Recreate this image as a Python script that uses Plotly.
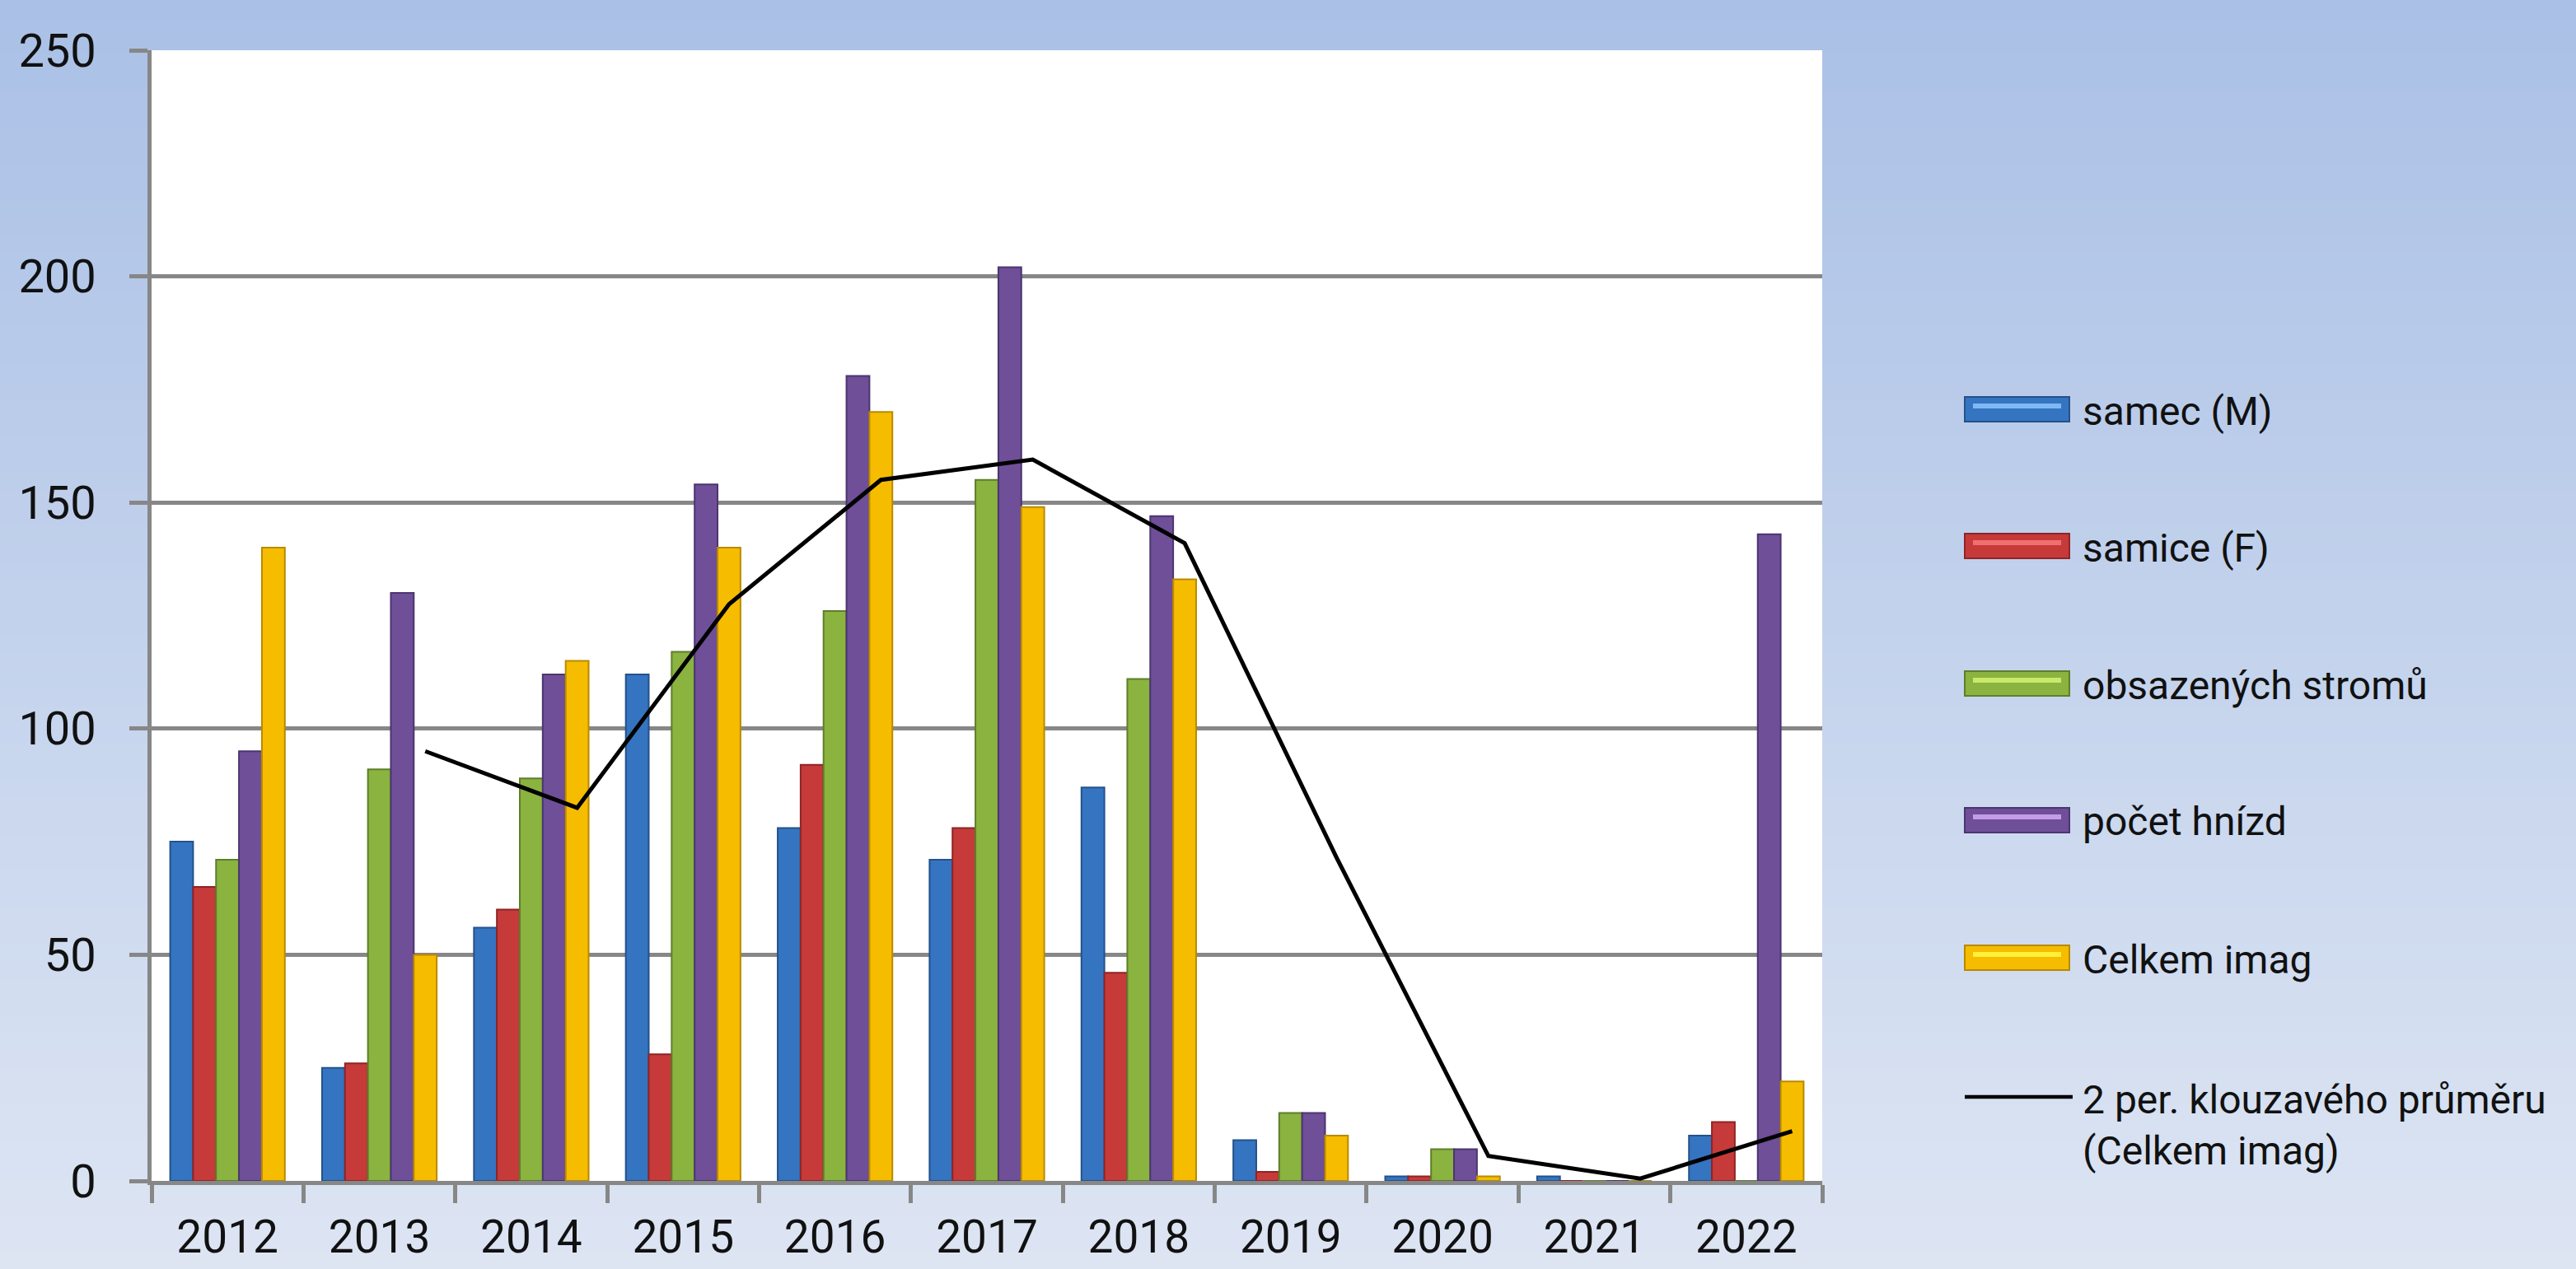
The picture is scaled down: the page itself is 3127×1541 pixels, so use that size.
import plotly.graph_objects as go
import pandas as pd

# ---------------- data ----------------
years = ["2012", "2013", "2014", "2015", "2016", "2017", "2018", "2019", "2020", "2021", "2022"]
series_names = ["samec (M)", "samice (F)", "obsazených stromů", "počet hnízd", "Celkem imag"]
samec = [75, 25, 56, 112, 78, 71, 87, 9, 1, 1, 10]
samice = [65, 26, 60, 28, 92, 78, 46, 2, 1, 0, 13]
obsazenych_stromu = [71, 91, 89, 117, 126, 155, 111, 15, 7, 0, 0]
pocet_hnizd = [95, 130, 112, 154, 178, 202, 147, 15, 7, 0, 143]
celkem_imag = [140, 50, 115, 140, 170, 149, 133, 10, 1, 0, 22]
trend_name = "2 per. klouzavého průměru<br>(Celkem imag)"
y_ticks = [0, 50, 100, 150, 200, 250]

# ---------------- style ----------------
W, H = 3127, 1541
L, R, T, B = 184, 915, 61, 107
PW, PH = W - L - R, H - T - B
FONT = "Roboto, Open Sans, sans-serif"
GRID = "#878787"
fills = ["#3574C0", "#C63A3A", "#8AB33F", "#6E4F98", "#F6BC00"]
edges = ["#24528A", "#8E2525", "#5E7E2A", "#4C3570", "#B88A00"]
lights = ["#80B8F5", "#F07070", "#C8EA6A", "#C49CE8", "#FFF03A"]
BARGAP = 0.245
line_offset = 2 * (1 - BARGAP) / 5  # position of the last bar of each group


def px_x(X):
    return (X - L) / PW


def px_y(Y):
    return (H - B - Y) / PH


series_values = [samec, samice, obsazenych_stromu, pocet_hnizd, celkem_imag]

fig = go.Figure()
for name, vals, col, edge in zip(series_names, series_values, fills, edges):
    fig.add_trace(go.Bar(
        x=years, y=vals, name=name,
        marker=dict(color=col, line=dict(color=edge, width=2)),
        showlegend=False,
    ))

moving_avg = pd.Series(celkem_imag, dtype=float).rolling(2).mean()
ma_vals = [None if pd.isna(v) else float(v) for v in moving_avg]
fig.add_trace(go.Scatter(
    x=years, y=ma_vals, xaxis="x2", yaxis="y", mode="lines",
    name=trend_name.replace("<br>", " "),
    line=dict(color="black", width=5), showlegend=False,
))

# ---------------- background gradient ----------------
shapes = []
N = 70
top = (170, 192, 230)
bot = (221, 229, 243)
for i in range(N):
    f = i / (N - 1)
    c = tuple(round(top[k] + (bot[k] - top[k]) * f) for k in range(3))
    y0 = H * i / N
    y1 = H * (i + 1) / N + 1
    shapes.append(dict(type="rect", xref="paper", yref="paper",
                       x0=px_x(0), x1=px_x(W), y0=px_y(y1), y1=px_y(y0),
                       fillcolor="rgb(%d,%d,%d)" % c, line=dict(width=0), layer="below"))
shapes.append(dict(type="rect", xref="paper", yref="paper", x0=0, x1=1, y0=0, y1=1,
                   fillcolor="white", line=dict(width=0), layer="below"))

# ---------------- custom legend ----------------
annotations = []
leg_y = [497, 663, 830, 996, 1163]
SW_X0, SW_X1, TXT_X = 2385, 2512, 2526
for name, yc, col, edge, lt in zip(series_names, leg_y, fills, edges, lights):
    shapes.append(dict(type="rect", xref="paper", yref="paper",
                       x0=px_x(SW_X0), x1=px_x(SW_X1), y0=px_y(yc + 15), y1=px_y(yc - 15),
                       fillcolor=col, line=dict(color=edge, width=2), layer="above"))
    shapes.append(dict(type="rect", xref="paper", yref="paper",
                       x0=px_x(SW_X0 + 10), x1=px_x(SW_X1 - 10), y0=px_y(yc - 1), y1=px_y(yc - 7),
                       fillcolor=lt, line=dict(width=0), layer="above"))
    annotations.append(dict(text=name, xref="paper", yref="paper", x=px_x(TXT_X), y=px_y(yc + 2),
                            xanchor="left", yanchor="middle", showarrow=False,
                            font=dict(family=FONT, size=48, color="#111111")))
shapes.append(dict(type="line", xref="paper", yref="paper",
                   x0=px_x(SW_X0), x1=px_x(2516), y0=px_y(1332), y1=px_y(1332),
                   line=dict(color="black", width=4.5), layer="above"))
annotations.append(dict(text=trend_name, xref="paper", yref="paper", x=px_x(TXT_X), y=px_y(1366),
                        xanchor="left", yanchor="middle", align="left", showarrow=False,
                        font=dict(family=FONT, size=48, color="#111111")))

fig.update_layout(
    width=W, height=H,
    margin=dict(l=L, r=R, t=T, b=B, pad=0),
    paper_bgcolor="rgb(196,210,236)",
    plot_bgcolor="rgba(0,0,0,0)",
    barmode="group", bargap=BARGAP, bargroupgap=0,
    font=dict(family=FONT, color="#111111"),
    shapes=shapes, annotations=annotations,
    showlegend=False,
    xaxis=dict(type="category", categoryorder="array", categoryarray=years,
               range=[-0.5, len(years) - 0.5], automargin=False,
               showline=True, linecolor=GRID, linewidth=5,
               ticks="outside", tickson="boundaries", ticklen=22, tickwidth=5, tickcolor=GRID,
               tickfont=dict(size=55, family=FONT, color="#111111"), ticklabelstandoff=16,
               showgrid=False, zeroline=False),
    xaxis2=dict(type="category", categoryorder="array", categoryarray=years,
                overlaying="x", anchor="y", visible=False, automargin=False,
                range=[-0.5 - line_offset, len(years) - 0.5 - line_offset]),
    yaxis=dict(range=[0, 250], tickvals=y_ticks, automargin=False,
               showgrid=True, gridcolor=GRID, gridwidth=5,
               showline=True, linecolor=GRID, linewidth=5,
               ticks="outside", ticklen=22, tickwidth=5, tickcolor=GRID,
               tickfont=dict(size=56, family=FONT, color="#111111"), ticklabelstandoff=29,
               zeroline=False),
)

fig.write_html(
    "out.html",
    config={"displayModeBar": False},
    post_script="document.body.style.margin='0';document.body.style.overflow='hidden';",
)
